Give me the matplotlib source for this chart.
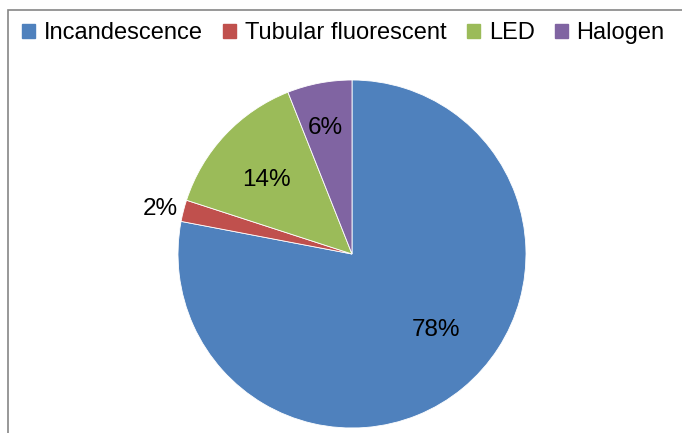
import numpy as np
import matplotlib.pyplot as plt
from matplotlib.patches import Rectangle

# Dados
categorias = ["Incandescence", "Tubular fluorescent", "LED", "Halogen"]
valores = [78, 2, 14, 6]
rotulos = ["78%", "2%", "14%", "6%"]
cores = ["#4F81BD", "#C0504D", "#9BBB59", "#8064A2"]

plt.rcParams['font.family'] = ['Liberation Sans', 'DejaVu Sans']

fig = plt.figure(figsize=(6.82, 4.33), dpi=100)

# borda do grafico (cortada a direita e embaixo)
fig.patches.append(Rectangle((8/682, -0.1), 1.2, (433-10)/433 + 0.1,
                             transform=fig.transFigure, fill=False,
                             edgecolor="#868686", linewidth=1.2))

cx, cy, r = 352, 254, 174
ax = fig.add_axes([(cx - r)/682, (433 - cy - r)/433, 2*r/682, 2*r/433])
wedges, _ = ax.pie(valores, colors=cores, startangle=90, counterclock=False,
                   radius=1, wedgeprops=dict(edgecolor="white", linewidth=0.6))
ax.set_xlim(-1, 1)
ax.set_ylim(-1, 1)
ax.set_aspect("equal")
ax.axis("off")

# posicao dos rotulos (distancia e angulo ajustados como no Excel)
dist = [0.65, 1.13, 0.65, 0.74]
ajuste_ang = [8, 1.3, 2.5, 1.2]
for w, txt, d, a in zip(wedges, rotulos, dist, ajuste_ang):
    ang = np.deg2rad((w.theta1 + w.theta2)/2 + a)
    ax.text(d*np.cos(ang), d*np.sin(ang), txt, ha="center", va="center",
            fontsize=17.5, color="black")

handles = [Rectangle((0, 0), 1, 1, color=c) for c in cores]
fig.legend(handles, categorias, loc="center left",
           bbox_to_anchor=(22/682, 1 - 33/433),
           ncol=4, frameon=False, fontsize=17, handlelength=0.55,
           handleheight=0.55, handletextpad=0.38, columnspacing=0.85,
           borderaxespad=0, borderpad=0)

fig.savefig("out.png", dpi=100)
